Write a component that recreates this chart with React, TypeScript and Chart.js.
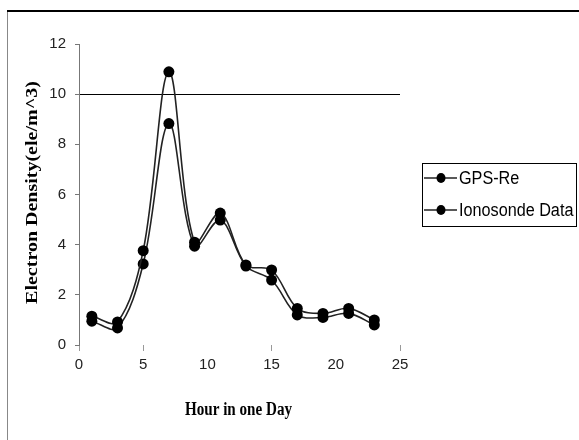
import React, { useEffect, useRef } from "react";
import { Chart, registerables } from "chart.js";

Chart.register(...registerables);

const hours = [1, 3, 5, 7, 9, 11, 13, 15, 17, 19, 21, 23];
const gpsRe = [1.15, 0.92, 3.76, 10.89, 4.1, 5.26, 3.19, 2.99, 1.46, 1.26, 1.46, 1.0];
const ionosonde = [0.95, 0.68, 3.23, 8.83, 3.94, 4.98, 3.15, 2.59, 1.2, 1.1, 1.26, 0.8];
const seriesNames = ["GPS-Re", "Ionosonde Data"];
const xTitle = "Hour in one Day";
const yTitle = "Electron Density(ele/m^3)";
const xMin = 0;
const xMax = 25;
const xStep = 5;
const yMin = 0;
const yMax = 12;
const yStep = 2;
const gridValue = 10;

const TICK_FONT = "'Liberation Sans Narrow', 'Arial Narrow', 'Liberation Sans', Arial, sans-serif";

export default function App() {
  const ref = useRef<HTMLCanvasElement>(null);

  useEffect(() => {
    document.body.style.margin = "0";
    const canvas = ref.current!;

    const framePlugin = {
      id: "frame",
      beforeDraw(chart: any) {
        const ctx = chart.ctx;
        ctx.save();
        ctx.fillStyle = "#fff";
        ctx.fillRect(0, 0, chart.width, chart.height);
        ctx.strokeStyle = "#000";
        ctx.lineWidth = 2;
        ctx.beginPath();
        ctx.moveTo(7, 11);
        ctx.lineTo(chart.width, 11);
        ctx.stroke();
        ctx.strokeStyle = "#888";
        ctx.lineWidth = 1;
        ctx.beginPath();
        ctx.moveTo(7.5, 12);
        ctx.lineTo(7.5, chart.height);
        ctx.stroke();
        ctx.restore();
      },
    };

    const textPlugin = {
      id: "texts",
      afterDraw(chart: any) {
        const ctx = chart.ctx;
        const area = chart.chartArea;
        // x title
        ctx.save();
        ctx.fillStyle = "#000";
        ctx.font = "bold 18px 'Liberation Serif', 'Times New Roman', serif";
        ctx.textAlign = "center";
        ctx.textBaseline = "middle";
        ctx.translate((area.left + area.right) / 2 - 1, 410);
        ctx.scale(0.84, 1);
        ctx.fillText(xTitle, 0, 0);
        ctx.restore();
        // y title
        ctx.save();
        ctx.fillStyle = "#000";
        ctx.font = "bold 20px 'Liberation Serif', 'Times New Roman', serif";
        ctx.textAlign = "center";
        ctx.textBaseline = "middle";
        ctx.translate(32, (area.top + area.bottom) / 2 - 2);
        ctx.rotate(-Math.PI / 2);
        ctx.scale(1, 0.88);
        ctx.fillText(yTitle, 0, 0);
        ctx.restore();
        // legend
        const bx = 422, by = 163, bw = 154, bh = 63;
        ctx.save();
        ctx.fillStyle = "#fff";
        ctx.fillRect(bx, by, bw, bh);
        ctx.strokeStyle = "#000";
        ctx.lineWidth = 1;
        ctx.strokeRect(bx + 0.5, by + 0.5, bw, bh);
        chart.data.datasets.forEach((ds: any, i: number) => {
          const y = 178 + i * 32;
          ctx.strokeStyle = ds.borderColor;
          ctx.lineWidth = 1.5;
          ctx.beginPath();
          ctx.moveTo(424, y);
          ctx.lineTo(457, y);
          ctx.stroke();
          ctx.fillStyle = ds.pointBackgroundColor;
          ctx.beginPath();
          ctx.ellipse(441, y, 4.5, 5, 0, 0, Math.PI * 2);
          ctx.fill();
          ctx.save();
          ctx.fillStyle = "#000";
          ctx.font = "18px 'Liberation Sans', Arial, sans-serif";
          ctx.textAlign = "left";
          ctx.textBaseline = "middle";
          ctx.translate(459, y + 1);
          ctx.scale(0.9, 1);
          ctx.fillText(ds.label, 0, 0);
          ctx.restore();
        });
        ctx.restore();
      },
    };

    const mkDataset = (label: string, values: number[]) => ({
      label,
      data: hours.map((h, i) => ({ x: h, y: values[i] })),
      borderColor: "#222",
      backgroundColor: "#000",
      borderWidth: 1.6,
      pointBackgroundColor: "#000",
      pointBorderColor: "#000",
      pointRadius: 5.5,
      pointBorderWidth: 0,
      tension: 0.35,
      fill: false,
    });

    const chart = new Chart(canvas, {
      type: "line",
      data: {
        datasets: [mkDataset(seriesNames[0], gpsRe), mkDataset(seriesNames[1], ionosonde)],
      },
      options: {
        animation: false,
        responsive: false,
        devicePixelRatio: 1,
        layout: { padding: { left: 0, top: 44, right: 179, bottom: 0 } },
        plugins: { legend: { display: false }, tooltip: { enabled: false } },
        scales: {
          x: {
            type: "linear",
            min: xMin,
            max: xMax,
            afterFit(scale: any) {
              scale.height = 95;
            },
            ticks: {
              stepSize: xStep,
              color: "#222",
              padding: 5,
              font: { family: TICK_FONT, size: 15 },
            },
            grid: {
              drawOnChartArea: false,
              tickLength: 6,
              tickColor: (c: any) => (c.tick && c.tick.value % 10 === 0 && c.tick.value !== 0 ? "rgba(0,0,0,0)" : "#999"),
            },
            border: { display: false },
          },
          y: {
            min: yMin,
            max: yMax,
            afterFit(scale: any) {
              scale.width = 79;
            },
            ticks: {
              stepSize: yStep,
              color: "#222",
              padding: 9,
              font: { family: TICK_FONT, size: 15 },
            },
            grid: {
              drawOnChartArea: true,
              tickLength: 4,
              color: (c: any) => (c.tick && c.tick.value === gridValue ? "#000" : "rgba(0,0,0,0)"),
              tickColor: "#777",
            },
            border: { display: true, color: "#777" },
          },
        },
      },
      plugins: [framePlugin, textPlugin],
    });

    return () => chart.destroy();
  }, []);

  return (
    <div style={{ position: "relative", width: 579, height: 440 }}>
      <canvas ref={ref} width={579} height={440} style={{ display: "block", width: 579, height: 440 }} />
    </div>
  );
}
